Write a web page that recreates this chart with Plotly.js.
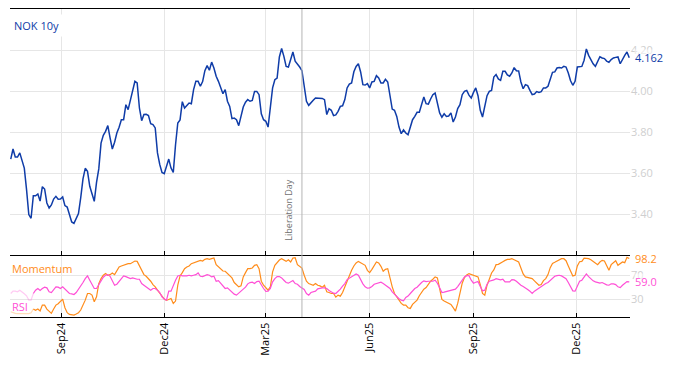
<!DOCTYPE html>
<html>
<head>
<meta charset="utf-8">
<script src="https://cdn.plot.ly/plotly-3.0.1.min.js"></script>
<style>
  html, body { margin: 0; padding: 0; background: #fff; }
  #chart { width: 674px; height: 366px; }
</style>
</head>
<body>
<div id="chart"></div>
<script>
// ---- Data ----
// Observations every 2 calendar days starting 2024-07-18
const START_DATE = '2024-07-18';
const STEP_DAYS = 2;

const nok10y = [
  3.668, 3.717, 3.678, 3.678, 3.698, 3.654, 3.624, 3.519, 3.397, 3.379,
  3.489, 3.489, 3.498, 3.463, 3.533, 3.522, 3.454, 3.429, 3.444, 3.473,
  3.486, 3.472, 3.473, 3.483, 3.441, 3.434, 3.393, 3.361, 3.354, 3.382,
  3.402, 3.480, 3.571, 3.623, 3.608, 3.535, 3.502, 3.462, 3.554, 3.620,
  3.746, 3.784, 3.803, 3.831, 3.771, 3.717, 3.750, 3.795, 3.823, 3.860,
  3.860, 3.933, 3.909, 3.954, 3.993, 4.047, 4.039, 3.917, 3.855, 3.885,
  3.886, 3.880, 3.841, 3.836, 3.820, 3.698, 3.642, 3.603, 3.597, 3.636,
  3.668, 3.624, 3.603, 3.738, 3.844, 3.859, 3.948, 3.917, 3.932, 3.941,
  3.938, 4.007, 4.047, 4.047, 4.023, 4.046, 4.099, 4.124, 4.101, 4.141,
  4.112, 4.072, 4.047, 4.015, 3.987, 4.007, 3.950, 3.925, 3.865, 3.868,
  3.860, 3.831, 3.873, 3.922, 3.945, 3.958, 3.950, 3.954, 3.998, 3.998,
  3.982, 3.889, 3.860, 3.852, 3.824, 3.925, 4.015, 4.055, 4.063, 4.166,
  4.207, 4.169, 4.120, 4.117, 4.150, 4.190, 4.145, 4.133, 4.117, 4.099,
  4.026, 3.950, 3.930, 3.945, 3.955, 3.966, 3.966, 3.966, 3.964, 3.958,
  3.885, 3.914, 3.906, 3.880, 3.883, 3.901, 3.925, 3.928, 3.958, 4.015,
  4.034, 4.039, 4.094, 4.120, 4.133, 4.093, 4.031, 4.029, 4.036, 4.015,
  4.044, 4.047, 4.075, 4.064, 4.039, 4.039, 4.057, 4.044, 3.966, 3.912,
  3.906, 3.876, 3.824, 3.792, 3.810, 3.795, 3.787, 3.828, 3.860, 3.876,
  3.896, 3.896, 3.933, 3.971, 3.938, 3.936, 3.961, 3.982, 3.990, 3.948,
  3.893, 3.872, 3.889, 3.876, 3.878, 3.893, 3.849, 3.873, 3.914, 3.933,
  3.982, 3.998, 4.003, 3.980, 3.966, 3.993, 4.015, 3.977, 3.906, 3.873,
  3.925, 3.977, 3.998, 4.003, 4.068, 4.080, 4.059, 4.052, 4.096, 4.096,
  4.078, 4.072, 4.088, 4.114, 4.099, 4.098, 4.044, 4.011, 4.031, 4.026,
  4.003, 3.982, 3.985, 3.997, 3.993, 3.997, 4.015, 4.015, 4.023, 4.059,
  4.091, 4.093, 4.112, 4.114, 4.112, 4.120, 4.117, 4.088, 4.050, 4.028,
  4.047, 4.117, 4.120, 4.120, 4.150, 4.205, 4.174, 4.153, 4.133, 4.120,
  4.146, 4.167, 4.161, 4.158, 4.146, 4.140, 4.153, 4.161, 4.164, 4.166,
  4.133, 4.156, 4.174, 4.190, 4.162
];

const momentum = [
  8.9, 7.2, 6.1, 5.6, 5.6, 5.6, 5.6, 5.6, 5.6, 7.2,
  13.3, 11.1, 13.3, 10, 20, 20, 13.3, 8.9, 6.1, 13.3,
  20, 22.2, 26.7, 30, 15.6, 7.2, 4.4, 3.3, 3.3, 5,
  7.2, 11.7, 18.9, 28.3, 39.4, 39.4, 36.7, 25.6, 33.9, 56.1,
  64.4, 70, 72.8, 70, 71.1, 73.9, 71.1, 78.3, 83.9, 85.6,
  87.2, 88.3, 89.4, 89.4, 92.2, 93.9, 93.3, 85.6, 76.7, 71.1,
  68.3, 64.4, 60, 54.4, 50.6, 45, 39.4, 33.9, 30, 27.8,
  30, 31.1, 22.8, 26.7, 53.3, 68.9, 74.4, 81.1, 83.9, 85.6,
  89.4, 91.1, 92.2, 93.3, 95, 93.9, 96.7, 97.8, 96.7, 97.8,
  98.9, 87.8, 83.9, 80, 77.2, 76.7, 72.8, 68.9, 65.6, 57.8,
  54.4, 50.6, 52.2, 67.2, 74.4, 81.1, 81.1, 82.2, 86.7, 87.8,
  81.1, 60, 53.3, 48.9, 45, 50.6, 75.6, 86.7, 92.2, 95.6,
  97.8, 95.6, 93.3, 96.1, 92.2, 98.9, 99.4, 87.8, 85.6, 82.2,
  70, 60, 56.1, 55, 53.3, 56.1, 53.3, 52.2, 50, 53.3,
  42.2, 41.1, 39.4, 39.4, 33.3, 36.7, 35, 41.1, 50.6, 58.9,
  70, 78.3, 85.6, 90.6, 93.3, 91.1, 87.8, 86.7, 78.3, 74.4,
  80, 86.7, 92.2, 90.6, 85, 76.7, 80, 81.1, 64.4, 50.6,
  39.4, 33.9, 28.3, 22.8, 20, 20, 15.6, 14.4, 21.1, 25.6,
  28.3, 35.6, 41.1, 46.7, 49.4, 55.6, 60, 63.3, 67.2, 65.6,
  45, 29.4, 26.7, 24.4, 22.8, 21.1, 15.6, 10, 22.8, 42.2,
  56.7, 66.1, 70.6, 72.8, 71.7, 69.4, 69.4, 67.2, 54.4, 39.4,
  36.7, 53.3, 63.3, 73.9, 78.9, 87.8, 88.3, 90, 92.8, 95,
  96.7, 96.7, 97.8, 96.1, 93.9, 92.2, 82.2, 72.2, 67.2, 66.1,
  65, 64.4, 60.6, 56.7, 53.3, 54.4, 61.1, 64.4, 71.1, 82.8,
  90, 91.7, 93.3, 95.6, 97.8, 97.8, 94.4, 85.6, 78.3, 68.9,
  70, 85.6, 92.8, 93.3, 98.9, 98.9, 97.8, 96.1, 93.3, 89.4,
  87.8, 92.2, 95, 93.9, 86.7, 78.3, 87.8, 91.7, 94.4, 86.7,
  89.4, 92.2, 91.1, 100, 98.2
];

const rsi = [
  39.4, 43.3, 43.3, 42.2, 45, 41.1, 38.9, 35.6, 28.3, 28.3,
  39.4, 45, 47.8, 44.4, 47.8, 50, 48.9, 42.2, 41.1, 46.7,
  50.6, 50, 47.8, 50.6, 46.7, 42.2, 39.4, 38.9, 37.8, 41.1,
  46.7, 50.6, 57.8, 64.4, 68.9, 61.7, 53.3, 47.8, 47.8, 54.4,
  61.7, 66.7, 70, 71.1, 68.3, 61.7, 53.3, 55, 60, 64.4,
  68.9, 67.8, 65.6, 64.4, 65.6, 64.4, 63.3, 63.3, 56.1, 53.3,
  50, 47.8, 45, 47.8, 47.8, 45, 41.1, 33.9, 30, 28.3,
  43.3, 43.3, 53.3, 61.7, 68.9, 70, 68.9, 68.3, 68.9, 70,
  68.9, 70, 71.1, 73.9, 68.3, 67.8, 68.9, 71.1, 70, 67.2,
  68.3, 60, 61.1, 57.2, 52.2, 47.8, 48.9, 45.6, 41.7, 38.3,
  36.7, 40.6, 44.4, 46.7, 50, 55.6, 57.8, 58.3, 56.1, 59.4,
  60, 53.3, 47.8, 42.8, 43.3, 47.8, 58.9, 64.4, 67.8, 67.8,
  65.6, 61.7, 57.8, 56.7, 59.4, 61.1, 56.1, 55, 51.1, 48.9,
  46.1, 39.4, 36.7, 41.1, 42.8, 43.3, 47.2, 48.3, 48.9, 48.9,
  47.8, 44.4, 41.7, 40, 39.4, 42.8, 46.7, 51.7, 56.1, 62.8,
  65, 67.2, 69.4, 72.2, 70, 61.7, 55.6, 50.6, 48.3, 48.9,
  51.1, 55, 56.1, 56.7, 58.3, 56.1, 52.8, 51.1, 47.8, 42.2,
  37.8, 33.9, 30.6, 28.3, 27.2, 32.8, 35, 39.4, 43.9, 47.8,
  50, 54.4, 57.8, 60.6, 59.4, 60, 60, 60, 61.7, 56.7,
  48.9, 41.1, 41.7, 42.8, 43.3, 44.4, 46.1, 46.7, 51.1, 56.7,
  61.7, 67.2, 69.4, 69.4, 61.7, 56.7, 58.3, 59.4, 51.1, 43.9,
  45, 55, 60, 60.6, 62.2, 64.4, 63.3, 62.2, 63.3, 58.9,
  58.9, 58.9, 62.8, 62.2, 60, 56.1, 53.3, 51.1, 47.8, 46.1,
  43.3, 39.4, 43.3, 46.1, 47.8, 51.1, 54.4, 56.1, 57.8, 61.7,
  66.1, 68.3, 69.4, 70, 68.9, 67.2, 64.4, 57.8, 50.6, 43.9,
  43.3, 53.3, 60, 61.7, 67.2, 72.2, 67.8, 63.3, 60.6, 58.9,
  57.2, 56.7, 57.8, 55.6, 53.9, 53.3, 55.6, 55.6, 54.4, 50.6,
  49.4, 53.3, 56.7, 59.4, 59.0
];

const WARMUP = 10;               // first points drawn faded in the lower panel
const EVENT_DATE = '2025-04-02';
const EVENT_LABEL = 'Liberation Day';
const SERIES_NAME = 'NOK 10y';
const yTicksTop = [3.4, 3.6, 3.8, 4.0, 4.2];
const yTicksLow = [30, 70];

// ---- Build date axis values ----
function addDays(iso, n) {
  const d = new Date(iso + 'T00:00:00Z');
  d.setUTCDate(d.getUTCDate() + n);
  return d.toISOString().slice(0, 10);
}
const dates = nok10y.map((_, i) => addDays(START_DATE, i * STEP_DAYS));

const BLUE = '#0f3ca8';
const ORANGE = '#ff8c1a';
const PINK = '#ff4fd6';
const GRID = '#e6e6e6';
const TICKGREY = '#cfcfcf';

const traces = [
  { x: dates, y: nok10y, xaxis: 'x2', yaxis: 'y2', type: 'scatter', mode: 'lines',
    line: { color: BLUE, width: 1.5 }, hoverinfo: 'skip' },
  { x: dates.slice(0, WARMUP + 1), y: momentum.slice(0, WARMUP + 1), xaxis: 'x', yaxis: 'y',
    type: 'scatter', mode: 'lines', opacity: 0.3, line: { color: ORANGE, width: 1.2 }, hoverinfo: 'skip' },
  { x: dates.slice(WARMUP), y: momentum.slice(WARMUP), xaxis: 'x', yaxis: 'y',
    type: 'scatter', mode: 'lines', line: { color: ORANGE, width: 1.2 }, hoverinfo: 'skip' },
  { x: dates.slice(0, WARMUP + 1), y: rsi.slice(0, WARMUP + 1), xaxis: 'x', yaxis: 'y',
    type: 'scatter', mode: 'lines', opacity: 0.3, line: { color: PINK, width: 1.2 }, hoverinfo: 'skip' },
  { x: dates.slice(WARMUP), y: rsi.slice(WARMUP), xaxis: 'x', yaxis: 'y',
    type: 'scatter', mode: 'lines', line: { color: PINK, width: 1.2 }, hoverinfo: 'skip' }
];

const SPLIT = 0.2013;
const xRange = ['2024-07-17 08:00', '2026-01-17 16:00'];

const layout = {
  width: 674, height: 366,
  margin: { l: 10, r: 44, t: 9, b: 49 },
  paper_bgcolor: '#fff', plot_bgcolor: '#fff',
  showlegend: false,
  font: { family: 'Open Sans, sans-serif', size: 11, color: '#000' },
  xaxis: {
    type: 'date', range: xRange, anchor: 'y',
    tick0: '2024-09-01', dtick: 'M3', tickformat: '%b%y', tickangle: -90,
    ticks: 'inside', ticklen: 4, tickcolor: '#000', tickwidth: 1,
    showline: true, linecolor: '#000', linewidth: 1.3,
    showgrid: true, gridcolor: GRID, gridwidth: 1, zeroline: false,
    tickfont: { size: 11, color: '#000' }
  },
  xaxis2: {
    type: 'date', range: xRange, anchor: 'y2', matches: 'x',
    tick0: '2024-09-01', dtick: 'M3',
    ticks: 'inside', ticklen: 4, tickcolor: '#000', tickwidth: 1,
    showticklabels: false, showline: true, mirror: true, linecolor: '#000', linewidth: 1.3,
    showgrid: true, gridcolor: GRID, gridwidth: 1, zeroline: false
  },
  yaxis: {
    domain: [0, SPLIT], range: [0, 104], side: 'right', anchor: 'x',
    tickvals: yTicksLow, ticks: '', showline: false,
    showgrid: true, gridcolor: GRID, zeroline: false,
    tickfont: { size: 11, color: TICKGREY }
  },
  yaxis2: {
    domain: [SPLIT, 1], range: [3.2, 4.4], side: 'right', anchor: 'x2',
    tickvals: yTicksTop, tickformat: '.2f', ticks: '', showline: false,
    showgrid: true, gridcolor: GRID, zeroline: false,
    tickfont: { size: 11, color: TICKGREY }
  },
  shapes: [
    { type: 'line', xref: 'x', yref: 'paper', x0: EVENT_DATE, x1: EVENT_DATE, y0: 0, y1: 1,
      line: { color: '#b4b4b4', width: 1 } }
  ],
  annotations: [
    { xref: 'paper', yref: 'paper', x: 0, y: 1, xanchor: 'left', yanchor: 'top',
      xshift: 0, yshift: -5, text: SERIES_NAME, showarrow: false,
      bgcolor: '#fff', borderpad: 3, font: { size: 11, color: BLUE } },
    { xref: 'paper', yref: 'y', x: 0, y: 81.7, xanchor: 'left', yanchor: 'middle',
      xshift: 0, text: 'Momentum', showarrow: false, font: { size: 11, color: ORANGE } },
    { xref: 'paper', yref: 'y', x: 0, y: 18.3, xanchor: 'left', yanchor: 'middle',
      xshift: 0, text: 'RSI', showarrow: false, font: { size: 11, color: PINK } },
    { xref: 'x', yref: 'y2', x: EVENT_DATE, y: 3.421, xanchor: 'center', yanchor: 'middle',
      xshift: -13, textangle: -90, text: EVENT_LABEL, showarrow: false,
      font: { size: 9, color: '#707070' } },
    { xref: 'paper', yref: 'y2', x: 1, y: nok10y[nok10y.length - 1], xanchor: 'left', yanchor: 'middle',
      xshift: 4, text: nok10y[nok10y.length - 1].toFixed(3), showarrow: false,
      bgcolor: 'rgba(255,255,255,0.55)', borderpad: 0,
      font: { size: 11, color: BLUE } },
    { xref: 'paper', yref: 'y', x: 1, y: momentum[momentum.length - 1], xanchor: 'left', yanchor: 'middle',
      xshift: 4, text: momentum[momentum.length - 1].toFixed(1), showarrow: false,
      bgcolor: 'rgba(255,255,255,0.55)', borderpad: 0,
      font: { size: 11, color: ORANGE } },
    { xref: 'paper', yref: 'y', x: 1, y: rsi[rsi.length - 1], xanchor: 'left', yanchor: 'middle',
      xshift: 4, text: rsi[rsi.length - 1].toFixed(1), showarrow: false,
      bgcolor: 'rgba(255,255,255,0.55)', borderpad: 0,
      font: { size: 11, color: PINK } }
  ]
};

Plotly.newPlot('chart', traces, layout, { displayModeBar: false, staticPlot: true });
</script>
</body>
</html>
